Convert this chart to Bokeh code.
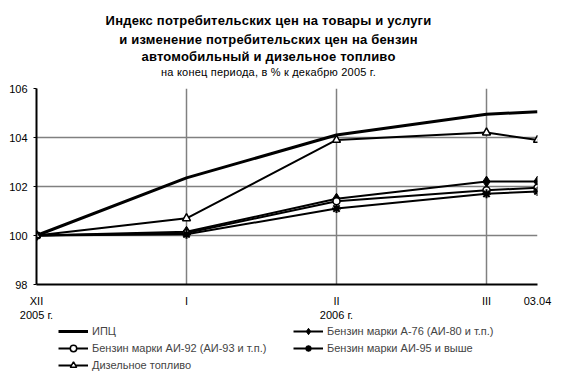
from bokeh.plotting import figure
from bokeh.models import Range1d, FixedTicker, Legend, LegendItem, Div
from bokeh.layouts import column
from bokeh.embed import file_html
from bokeh.resources import INLINE

# ---- data ----
x_pos = [0, 1, 2, 3, 3.34]
x_labels = ["XII\n2005 г.", "I", "II\n2006 г.", "III", "03.04"]
cpi = [100.0, 102.35, 104.1, 104.95, 105.05]
a76 = [100.0, 100.15, 101.5, 102.2, 102.2]
ai92 = [100.0, 100.1, 101.4, 101.85, 101.95]
ai95 = [100.0, 100.05, 101.1, 101.7, 101.8]
diesel = [100.0, 100.7, 103.9, 104.2, 103.9]
y_ticks = [98, 100, 102, 104, 106]

title_lines = ["Индекс потребительских цен на товары и услуги",
               "и изменение потребительских цен на бензин",
               "автомобильный и дизельное топливо"]
subtitle = "на конец периода, в % к декабрю 2005 г."
series_names = ["ИПЦ", "Бензин марки А-76 (АИ-80 и т.п.)",
                "Бензин марки АИ-92 (АИ-93 и т.п.)", "Бензин марки АИ-95 и выше",
                "Дизельное топливо"]

FONT = "Liberation Sans"

# ---- title block ----
line_css = ("display:block;width:537px;height:16px;line-height:16px;"
            "text-align:center;white-space:nowrap;"
            "font-family:'Liberation Sans';color:black;")
bold_css = "font-weight:bold;font-size:13px;letter-spacing:0.2px;"
html = (
    f"<div style=\"width:537px;\">"
    f"<div style=\"{line_css}margin-top:13px;{bold_css}\">{title_lines[0]}</div>"
    f"<div style=\"{line_css}margin-top:3px;{bold_css}\">{title_lines[1]}</div>"
    f"<div style=\"{line_css}margin-top:1px;{bold_css}\">{title_lines[2]}</div>"
    f"<div style=\"{line_css}margin-top:-1px;font-size:11px;letter-spacing:0.2px;\">{subtitle}</div>"
    f"</div>"
)
title_div = Div(text=html, width=537, height=80, margin=(0, 0, 0, 0),
                styles={"width": "537px"})

# ---- main plot ----
p = figure(width=580, height=240, output_backend="svg", toolbar_location=None,
           x_range=Range1d(0, 3.34), y_range=Range1d(98, 106),
           min_border_left=36, min_border_right=43, min_border_top=8,
           min_border_bottom=34, outline_line_color=None, margin=(0, 0, 0, 0))
p.frame_width = 501
p.frame_height = 196
p.title.text = ""

p.xaxis.ticker = FixedTicker(ticks=x_pos)
p.xaxis.major_label_overrides = {x: l for x, l in zip(x_pos, x_labels)}
p.xaxis.major_tick_line_color = None
p.xaxis.minor_tick_line_color = None
p.xaxis.axis_line_color = "black"
p.xaxis.axis_line_width = 2
p.xaxis.major_label_text_font = FONT
p.xaxis.major_label_text_font_size = "11px"
p.xaxis.major_label_text_color = "black"
p.xaxis.major_label_standoff = 4

p.yaxis.ticker = FixedTicker(ticks=y_ticks)
p.yaxis.minor_tick_line_color = None
p.yaxis.major_tick_out = 3
p.yaxis.major_tick_in = 0
p.yaxis.major_tick_line_color = "black"
p.yaxis.axis_line_color = "black"
p.yaxis.axis_line_width = 2
p.yaxis.major_label_text_font = FONT
p.yaxis.major_label_text_font_size = "11px"
p.yaxis.major_label_text_color = "black"
p.yaxis.major_label_standoff = 6

p.xgrid.ticker = FixedTicker(ticks=x_pos)
p.ygrid.ticker = FixedTicker(ticks=y_ticks)
for g in (p.xgrid, p.ygrid):
    g.grid_line_color = "#808080"
    g.grid_line_width = 1.5

styles = {
    "cpi": dict(line_width=3, marker=None),
    "a76": dict(line_width=2, marker="diamond", size=11, fill_color="black", mlw=1),
    "ai92": dict(line_width=2, marker="circle", size=7, fill_color="white", mlw=1.5),
    "ai95": dict(line_width=2, marker="asterisk", size=9, fill_color="black", mlw=2),
    "diesel": dict(line_width=2, marker="triangle", size=8, fill_color="white", mlw=1.5),
}
keys = ["cpi", "a76", "ai92", "ai95", "diesel"]
values = {"cpi": cpi, "a76": a76, "ai92": ai92, "ai95": ai95, "diesel": diesel}


def draw(fig, xs, ys, key):
    st = styles[key]
    rs = [fig.line(xs, ys, line_color="black", line_width=st["line_width"])]
    if st["marker"]:
        rs.append(fig.scatter(xs, ys, marker=st["marker"], size=st["size"],
                              fill_color=st["fill_color"], line_color="black",
                              line_width=st["mlw"]))
    return rs


for k in keys:
    draw(p, x_pos, values[k], k)

# ---- legend block (same series drawn out of view; only the legend shows) ----
q = figure(width=580, height=51, output_backend="svg", toolbar_location=None,
           x_range=Range1d(0, 1), y_range=Range1d(0, 1),
           x_axis_type=None, y_axis_type=None, outline_line_color=None,
           min_border_left=0, min_border_right=0, min_border_top=0,
           min_border_bottom=0, margin=(0, 0, 0, 0))
q.title.text = ""
leg_r = {k: draw(q, x_pos, values[k], k) for k in keys}
name = dict(zip(keys, series_names))
order = ["cpi", "ai92", "diesel", "a76", "ai95"]
items = [LegendItem(label=name[k], renderers=leg_r[k]) for k in order]
legend = Legend(items=items, location=(22, 1), orientation="vertical",
                ncols=2, nrows=3,
                label_text_font=FONT, label_text_font_size="11px",
                glyph_width=30, glyph_height=16, label_height=16,
                label_width=200, label_standoff=4, spacing=1,
                padding=0, margin=0, border_line_color=None,
                background_fill_alpha=0)
q.add_layout(legend, "center")

page = column(title_div, p, q, spacing=0, margin=(0, 0, 0, 0))
open("out.html", "w").write(file_html(page, INLINE))
